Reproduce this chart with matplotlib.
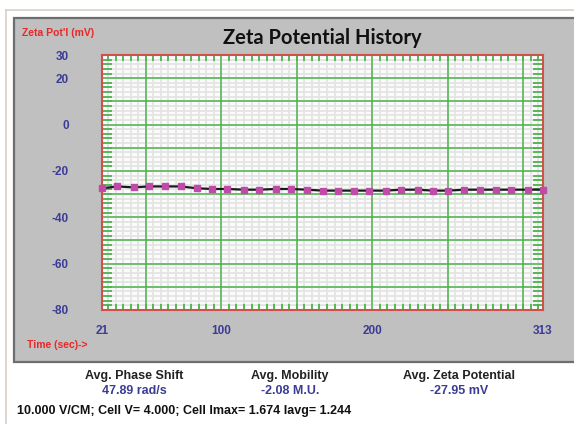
import numpy as np
import matplotlib.pyplot as plt
from matplotlib.patches import Rectangle
from matplotlib.ticker import MultipleLocator

plt.rcParams["axes.unicode_minus"] = False

# data
time_s = [21, 31, 42, 52, 63, 73, 84, 94, 104, 115, 125, 136, 146, 157, 167,
          177, 188, 198, 209, 219, 230, 240, 250, 261, 271, 282, 292, 303, 313]
zeta_mv = [-27.5, -26.7, -27.1, -26.7, -26.7, -26.7, -27.5, -27.8, -27.8, -28.1,
           -28.1, -27.8, -27.8, -28.1, -28.5, -28.5, -28.5, -28.5, -28.5, -28.1,
           -28.1, -28.5, -28.5, -28.1, -28.1, -28.1, -28.1, -28.1, -28.1]
x_labels = [21, 100, 200, 313]
y_labels = [30, 20, 0, -20, -40, -60, -80]
stat_names = ["Avg. Phase Shift", "Avg. Mobility", "Avg. Zeta Potential"]
stat_values = ["47.89 rad/s", "-2.08 M.U.", "-27.95 mV"]
footer = "10.000 V/CM; Cell V= 4.000; Cell Imax= 1.674 Iavg= 1.244"

W, H = 574, 424
fig = plt.figure(figsize=(W / 100, H / 100), dpi=100)
fig.patch.set_facecolor("white")


def fx(px):
    return px / W


def fy(py):
    return 1 - py / H


# outer frame lines and grey panel
fig.add_artist(plt.Line2D([fx(6), fx(6)], [fy(10), fy(424)], color="#d9cfc9", lw=1.2))
fig.add_artist(plt.Line2D([fx(6), fx(574)], [fy(10), fy(10)], color="#d9cfc9", lw=1.2))
fig.add_artist(Rectangle((fx(14), fy(362)), fx(600) - fx(14), fy(18) - fy(362),
                         facecolor="#c0c0c0", edgecolor="#6e6e6e", lw=1.6, zorder=0))

ax = fig.add_axes([fx(102), fy(310), fx(543) - fx(102), fy(55) - fy(310)])
ax.set_facecolor("#fbfbfb")
ax.set_xlim(21, 313)
ax.set_ylim(-80, 30)

# light minor grid
for xv in np.arange(25, 313, 5):
    ax.axvline(xv, color="#e4e4e4", lw=1.3, zorder=0)
for yv in np.arange(-78, 30, 2):
    ax.axhline(yv, color="#e4e4e4", lw=1.3, zorder=0)
# green major grid
for xv in np.arange(50, 313, 50):
    ax.axvline(xv, color="#4db34d", lw=1.1, zorder=1)
for yv in np.arange(-70, 30, 10):
    ax.axhline(yv, color="#4db34d", lw=1.1, zorder=1)

ax.plot(time_s, zeta_mv, color="#1a1a1a", lw=1.6, zorder=3)
ax.plot(time_s, zeta_mv, ls="none", marker="s", ms=4.3, color="#c04aa8",
        zorder=4, clip_on=False)

for sp in ax.spines.values():
    sp.set_color("#d0504a")
    sp.set_linewidth(1.5)

ax.set_xticks(x_labels)
ax.set_yticks(y_labels)
ax.xaxis.set_minor_locator(MultipleLocator(5))
ax.yaxis.set_minor_locator(MultipleLocator(2))
ax.tick_params(which="major", length=0)
ax.tick_params(axis="x", which="major", pad=11)
ax.tick_params(axis="y", which="major", pad=24)
ax.tick_params(which="minor", direction="in", color="#4db34d", width=1.3,
               top=True, right=True)
ax.tick_params(axis="x", which="minor", length=4)
ax.tick_params(axis="y", which="minor", length=7)
for lab in ax.get_xticklabels() + ax.get_yticklabels():
    lab.set_fontfamily("Liberation Sans")
    lab.set_fontweight("bold")
    lab.set_fontsize(8.5)
    lab.set_color("#3c3c96")

fig.text(fx(22), fy(33), "Zeta Pot'l (mV)", color="#e82828", fontsize=7.5,
         fontweight="bold", family="Liberation Sans", va="center")
fig.text(fx(27), fy(345), "Time (sec)->", color="#e82828", fontsize=7.5,
         fontweight="bold", family="Liberation Sans", va="center")
fig.text(fx(322), fy(38), "Zeta Potential History", color="#111111", fontsize=14.5,
         fontweight="bold", family="Lato", ha="center", va="center")

centers = [134, 290, 459]
for cx, name, val in zip(centers, stat_names, stat_values):
    fig.text(fx(cx), fy(376), name, color="#222222", fontsize=9, fontweight="bold",
             family="Liberation Sans", ha="center", va="center")
    fig.text(fx(cx), fy(391), val, color="#3c3c96", fontsize=9, fontweight="bold",
             family="Liberation Sans", ha="center", va="center")
fig.text(fx(17), fy(411), footer, color="#111111", fontsize=9, fontweight="bold",
         family="Liberation Sans", va="center")

fig.savefig("out.png", dpi=100)
